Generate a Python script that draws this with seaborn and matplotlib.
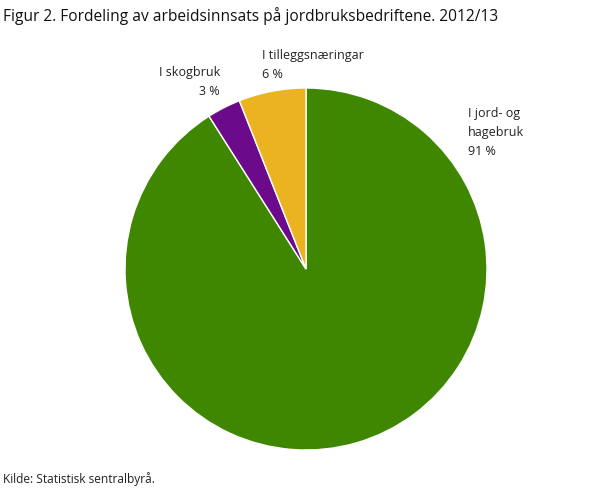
import matplotlib
matplotlib.use("Agg")
import matplotlib.pyplot as plt
import seaborn as sns

# Data
kategorier = ["I jord- og\nhagebruk", "I skogbruk", "I tilleggsnæringar"]
andel = [91, 3, 6]
farger = ["#3f8700", "#6b0b8c", "#ecb321"]

sns.set_theme(style="white")
plt.rcParams['font.family'] = ['Open Sans', 'DejaVu Sans']

fig = plt.figure(figsize=(6.08, 4.89), dpi=100)
ax = fig.add_axes([125 / 608, 38 / 489, 362 / 608, 362 / 489])

ax.pie(andel, colors=sns.color_palette(farger), startangle=90, counterclock=False,
       radius=1, wedgeprops=dict(edgecolor="white", linewidth=1))
ax.set_xlim(-1, 1)
ax.set_ylim(-1, 1)
ax.set_aspect("equal")
ax.axis("off")

# Etiketter
etiketter = [f"{k}\n{v} %" for k, v in zip(kategorier, andel)]
ax.text(0.895, 0.76, etiketter[0], ha="left", va="center", fontsize=9,
        linespacing=1.6, color="#222222")
ax.text(-0.475, 1.04, etiketter[1], ha="right", va="center", fontsize=9,
        linespacing=1.6, color="#222222", multialignment="right")
ax.text(-0.243, 1.135, etiketter[2], ha="left", va="center", fontsize=9,
        linespacing=1.6, color="#222222")

fig.text(3 / 608, 1 - 16 / 489, "Figur 2. Fordeling av arbeidsinnsats på jordbruksbedriftene. 2012/13",
         ha="left", va="center", fontsize=11.2, color="#111111")
fig.text(3 / 608, 1 - 479 / 489, "Kilde: Statistisk sentralbyrå.",
         ha="left", va="center", fontsize=8.6, color="#222222")

fig.savefig("out.png", dpi=100)
